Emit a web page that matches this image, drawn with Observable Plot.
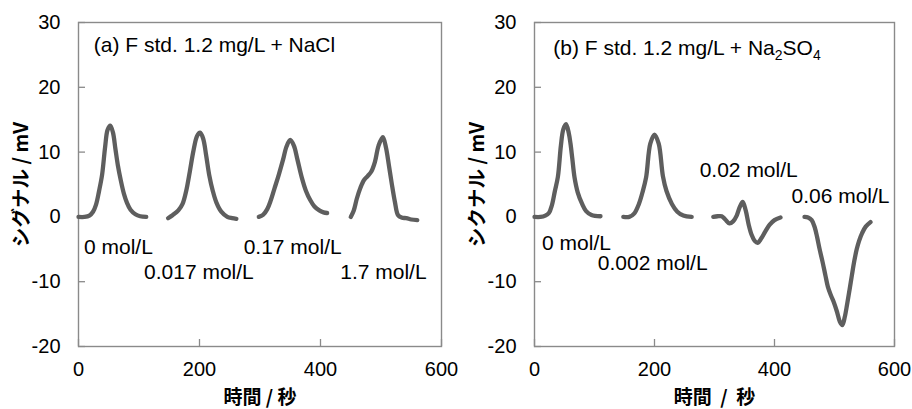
<!DOCTYPE html>
<html>
<head>
<meta charset="utf-8">
<script src="https://cdn.jsdelivr.net/npm/d3@7"></script>
<script src="https://cdn.jsdelivr.net/npm/@observablehq/plot@0.6"></script>
<style>
  html, body { margin: 0; padding: 0; background: #fff; }
  #wrap { display: flex; width: 912px; height: 409px; }
  svg { overflow: visible; }
</style>
</head>
<body>
<div id="wrap"></div>
<script>
// ---------- data ----------
const xTicks = [0, 200, 400, 600];
const yTicks = [-20, -10, 0, 10, 20, 30];

// (a) F std. 1.2 mg/L + NaCl  — [time (s), signal (mV)]
const nacl_0 = [[0,0],[10,0],[18,0.2],[24,0.8],[29,1.9],[34,4],[39,6.5],[44,10.8],[48,13.4],[52.5,14.1],[57,13],[61,10.5],[65,8],[70,5.6],[75,3.6],[80,2.2],[86,1.1],[94,0.4],[102,0.1],[112,0]];
const nacl_0017 = [[148,-0.2],[156,0.3],[165,1],[172,2],[178,4],[184,7],[190,10.2],[196,12.5],[201,13],[206,12.1],[211,9.5],[216,6.5],[222,4],[228,2.2],[236,0.8],[246,0],[254,-0.2],[261,-0.3]];
const nacl_017 = [[298,0],[305,0.3],[312,1.2],[318,2.6],[324,4.4],[331,6.5],[338,8.8],[344,10.9],[350,11.9],[356,11],[362,8.8],[369,6.1],[376,4],[383,2.6],[390,1.6],[398,1],[405,0.7],[411,0.6]];
const nacl_17 = [[450,0],[455,1],[460,2.8],[466,4.5],[472,5.7],[478,6.3],[484,7],[490,8.5],[496,11],[503,12.3],[508,10.8],[513,8],[518,5],[523,2.3],[528,0.3],[534,-0.1],[542,-0.2],[550,-0.4],[560,-0.5]];
const naclLabels = ["0 mol/L", "0.017 mol/L", "0.17 mol/L", "1.7 mol/L"];
const naclLabelX = [66, 199, 354, 504];
const naclLabelY = [-4.7, -8.5, -4.7, -8.6];

// (b) F std. 1.2 mg/L + Na2SO4
const so4_0 = [[0,0],[10,0],[18,0.2],[24,0.6],[29,1.8],[34,4],[39,6.2],[44,11],[48,13.5],[52.5,14.3],[57,13],[60,11.3],[63,9],[66.7,6.1],[72,3.8],[79.4,2],[86,0.9],[95,0.3],[110,0.1]];
const so4_0002 = [[148,0],[158,0],[166,0.5],[174,2],[180,3.8],[186,6.1],[193,11.3],[200,12.7],[207,11.3],[214,6.3],[220,4],[229,2],[238,0.8],[248,0.2],[262,0]];
const so4_002 = [[298,0],[305,0.1],[312,0.1],[318,-0.4],[325,-1.0],[331,-0.7],[337,0.2],[342,1.5],[347,2.3],[352,1],[357,-1.2],[362,-2.8],[367,-3.7],[372,-4.0],[378,-3.3],[385,-2.2],[392,-1.2],[400,-0.5],[410,-0.1]];
const so4_006 = [[450,0],[456,-0.1],[462,-0.5],[467,-1.6],[471,-3.1],[475,-4.9],[480,-6.9],[485,-9.1],[489,-10.8],[494,-12.1],[499,-13.2],[504,-14.6],[509,-16.2],[513,-16.7],[517,-15.5],[521,-13.5],[525,-11.3],[529,-9],[533,-6.8],[537,-5],[541,-3.7],[546,-2.5],[552,-1.5],[560,-0.8]];
const so4Labels = ["0 mol/L", "0.002 mol/L", "0.02 mol/L", "0.06 mol/L"];
const so4LabelX = [70, 197, 357, 510];
const so4LabelY = [-4.1, -7.2, 7.2, 3.2];

const titleA = "(a) F std. 1.2 mg/L + NaCl";
const titleB = "(b) F std. 1.2 mg/L + Na2SO4";
const titleAPos = [25.3, 26.55];
const titleBPos = [31.2, 26.07];
const yLabelA = "シグナル / mV";
const yLabelB = "シクナル / mV";
const xLabelA = "時間 / 秒";
const xLabelB = "時間  /  秒";

// ---------- drawing ----------
const FONT = "'Liberation Sans', Arial, 'Noto Sans CJK JP', sans-serif";
const GRAY = "#8a8a8a";
const LINE = "#5e5e5e";

function panel({curves, labels, lx, ly, title, tpos, yLabel, xLabel, marginRight}) {
  const W = 456, H = 409, mL = 78, mT = 22, mB = 63;
  const innerW = W - mL - marginRight, innerH = H - mT - mB;
  const labelData = labels.map((t, i) => ({text: t, x: lx[i], y: ly[i]}));
  const svg = Plot.plot({
    width: W, height: H,
    marginLeft: mL, marginRight, marginTop: mT, marginBottom: mB,
    style: {fontFamily: FONT, background: "transparent", overflow: "visible", color: "#000"},
    x: {domain: [0, 600]},
    y: {domain: [-20, 30]},
    marks: [
      Plot.frame({stroke: GRAY, strokeWidth: 1.4}),
      Plot.tickY(yTicks, {y: d => d, stroke: GRAY, strokeWidth: 1.3, insetRight: innerW - 7}),
      Plot.tickX(xTicks, {x: d => d, stroke: GRAY, strokeWidth: 1.3, insetTop: innerH - 7}),
      Plot.axisY(yTicks, {tickSize: 0, tickPadding: 18, fontSize: 20, fill: "#000", label: null, tickFormat: d => String(d)}),
      Plot.axisX(xTicks, {tickSize: 0, tickPadding: 15, fontSize: 20, fill: "#000", label: null, tickFormat: d => String(d)}),
      ...curves.map(c => Plot.line(c, {x: d => d[0], y: d => d[1], curve: "catmull-rom",
        stroke: LINE, strokeWidth: 4.3, strokeLinecap: "round", strokeLinejoin: "round"})),
      Plot.text(labelData, {x: "x", y: "y", text: "text", fontSize: 21, fill: "#000", textAnchor: "middle"}),
      Plot.text([title], {x: () => tpos[0], y: () => tpos[1], text: d => d, fontSize: 21, fill: "#000", textAnchor: "start"}),
      Plot.text([yLabel], {frameAnchor: "left", dx: -57, rotate: -90, text: d => d, fontSize: 19.5,
        textAnchor: "middle", lineAnchor: "middle",
        fontWeight: "bold", fill: "#000", fontFamily: "'Noto Sans CJK JP', sans-serif"}),
      Plot.text([xLabel], {frameAnchor: "bottom", dy: 51, text: d => d, fontSize: 19,
        textAnchor: "middle", lineAnchor: "middle",
        fontWeight: "bold", fill: "#000", fontFamily: "'Noto Sans CJK JP', sans-serif"})
    ]
  });
  return svg;
}

const wrap = document.getElementById("wrap");
wrap.append(panel({curves: [nacl_0, nacl_0017, nacl_017, nacl_17], labels: naclLabels, lx: naclLabelX, ly: naclLabelY,
  title: titleA, tpos: titleAPos, yLabel: yLabelA, xLabel: xLabelA, marginRight: 15}));
const svgB = panel({curves: [so4_0, so4_0002, so4_002, so4_006], labels: so4Labels, lx: so4LabelX, ly: so4LabelY,
  title: titleB, tpos: titleBPos, yLabel: yLabelB, xLabel: xLabelB, marginRight: 18});
wrap.append(svgB);

// subscripts for Na2SO4
d3.select(svgB).selectAll("text").filter(function() { return this.textContent === titleB; }).each(function() {
  const t = d3.select(this);
  t.text(null);
  t.append("tspan").text("(b) F std. 1.2 mg/L + Na");
  t.append("tspan").attr("dy", 5).attr("font-size", 14).text("2");
  t.append("tspan").attr("dy", -5).text("SO");
  t.append("tspan").attr("dy", 5).attr("font-size", 14).text("4");
});
</script>
</body>
</html>
